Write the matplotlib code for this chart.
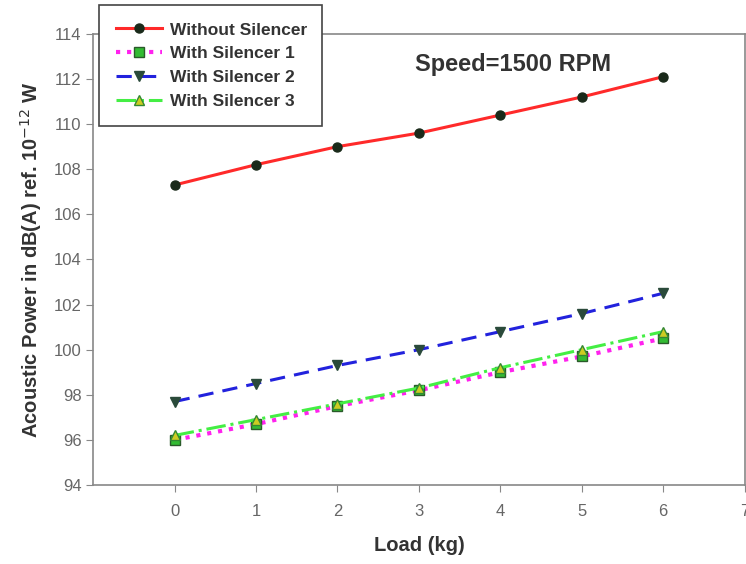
import matplotlib.pyplot as plt

plt.rcParams['font.family'] = ['Liberation Sans', 'DejaVu Sans']

# data
loadKg = [0, 1, 2, 3, 4, 5, 6]
withoutSilencer = [107.3, 108.2, 109.0, 109.6, 110.4, 111.2, 112.1]
withSilencer1 = [96.0, 96.7, 97.5, 98.2, 99.0, 99.7, 100.5]
withSilencer2 = [97.7, 98.5, 99.3, 100.0, 100.8, 101.6, 102.5]
withSilencer3 = [96.2, 96.9, 97.6, 98.3, 99.2, 100.0, 100.8]
seriesNames = ['Without Silencer', 'With Silencer 1', 'With Silencer 2', 'With Silencer 3']
xTicks = [0, 1, 2, 3, 4, 5, 6, 7]
yTicks = [94, 96, 98, 100, 102, 104, 106, 108, 110, 112, 114]

fig = plt.figure(figsize=(7.46, 5.64), dpi=100)
ax = fig.add_axes([0.125, 0.14, 0.873, 0.80])

ax.plot(loadKg, withoutSilencer, color='#ff2a2a', linestyle='-', linewidth=2.2,
        marker='o', markersize=6.5, markerfacecolor='#1a2a1a', markeredgecolor='#1a2a1a',
        label=seriesNames[0])
ax.plot(loadKg, withSilencer1, color='#ff22ee', linestyle=':', linewidth=3,
        marker='s', markersize=6.5, markerfacecolor='#33bb33', markeredgecolor='#2a5a2a',
        label=seriesNames[1])
ax.plot(loadKg, withSilencer2, color='#2222dd', linestyle=(0, (5, 3)), linewidth=2.2,
        marker='v', markersize=7.5, markerfacecolor='#2a4a3a', markeredgecolor='#2a4a3a',
        label=seriesNames[2])
ax.plot(loadKg, withSilencer3, color='#44ee44', linestyle='-.', linewidth=2.2,
        marker='^', markersize=7.5, markerfacecolor='#cccc22', markeredgecolor='#338833',
        label=seriesNames[3])

ax.set_xlim(-1, 7)
ax.set_ylim(94, 114)
ax.set_xticks(xTicks)
ax.set_yticks(yTicks)
ax.tick_params(axis='both', direction='out', length=5, color='#888888',
               labelsize=12, labelcolor='#666666')
ax.tick_params(axis='x', pad=9)
for spine in ax.spines.values():
    spine.set_color('#888888')
    spine.set_linewidth(1.2)

ax.set_xlabel('Load (kg)', fontsize=14.5, fontweight='bold', color='#333333', labelpad=12)
ax.set_ylabel('Acoustic Power in dB(A) ref. 10$^{-12}$ W', fontsize=14.5,
              fontweight='bold', color='#333333', labelpad=7)

ax.text(2.95, 112.65, 'Speed=1500 RPM', fontsize=17, fontweight='bold',
        color='#333333', va='center')

legH = 110 / 564
leg = fig.legend(loc='upper left', bbox_to_anchor=(99 / 746, 1 - 5 / 564 - legH, 223 / 746, legH),
                 mode='expand', fancybox=False, edgecolor='#444444', framealpha=1,
                 prop={'weight': 'bold', 'size': 12.5}, handlelength=2.6, handletextpad=0.5,
                 labelcolor='#333333', borderpad=1.0, labelspacing=0.5, borderaxespad=0)
leg.get_frame().set_linewidth(1.2)

fig.savefig('out.png', dpi=100)
